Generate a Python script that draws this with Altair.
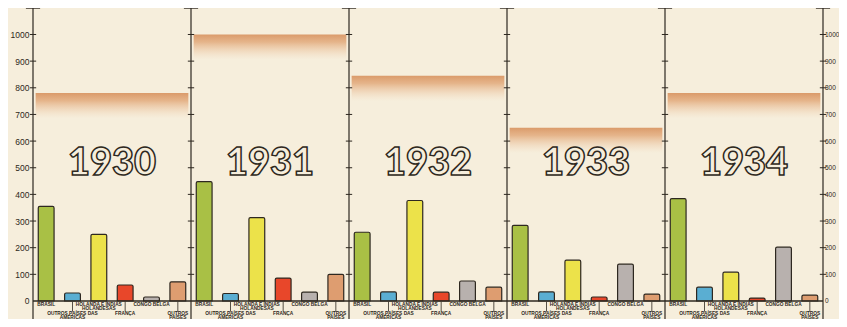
import altair as alt
import pandas as pd

years = ["1930", "1931", "1932", "1933", "1934"]
countries = ["BRASIL", "OUTROS PAÍSES DAS AMÉRICAS", "HOLANDA E ÍNDIAS HOLANDESAS",
             "FRANÇA", "CONGO BELGA", "OUTROS PAÍSES"]
values = {
    "1930": [355, 30, 250, 60, 15, 72],
    "1931": [448, 28, 313, 86, 33, 100],
    "1932": [258, 34, 377, 33, 75, 52],
    "1933": [284, 34, 153, 15, 138, 26],
    "1934": [384, 52, 108, 11, 202, 22],
}
totals = [780, 1000, 845, 650, 780]
colors = ["#a9c045", "#5aaed2", "#ece24a", "#e8472a", "#b8b1ae", "#de9d70"]
label_lines = [
    ["BRASIL"],
    ["OUTROS PAÍSES DAS", "AMÉRICAS"],
    ["HOLANDA E ÍNDIAS", "HOLANDESAS"],
    ["FRANÇA"],
    ["CONGO BELGA"],
    ["OUTROS", "PAÍSES"],
]
label_rows = [1, 2, 1, 2, 1, 2]
y_ticks = list(range(0, 1001, 100))

BG = "#f6eedc"
INK = "#2e2820"
NB = len(countries)
FONT = "Liberation Sans"

bars = []
for p, yr in enumerate(years):
    for i, c in enumerate(countries):
        bars.append({"year": yr, "country": c, "value": values[yr][i],
                     "x": p * NB + i + 0.2, "x2": p * NB + i + 0.8, "color": colors[i]})
bars_df = pd.DataFrame(bars)

bands_df = pd.DataFrame([{"year": yr, "x": p * NB + 0.1, "x2": p * NB + NB - 0.1,
                          "top": totals[p], "bottom": totals[p] - 95}
                         for p, yr in enumerate(years)])

years_df = pd.DataFrame([{"year": yr, "x": p * NB + NB / 2, "y": 515}
                         for p, yr in enumerate(years)])

axes_df = pd.DataFrame([{"x": p * NB, "y": -68, "y2": 1099} for p in range(len(years) + 1)])
caps_df = pd.DataFrame([{"x": p * NB - 0.27, "x2": p * NB + 0.27, "y": 1099}
                        for p in range(len(years) + 1)])
ticks_df = pd.DataFrame([{"x": p * NB - 0.12, "x2": p * NB + 0.12, "y": t}
                         for p in range(len(years) + 1) for t in y_ticks[1:]])
base_df = pd.DataFrame([{"x": 0, "x2": len(years) * NB, "y": 0}])

lab = []
conn = []
row_y = {1: -15, 2: -48}
for p in range(len(years)):
    for i, lines in enumerate(label_lines):
        y0 = row_y[label_rows[i]]
        for k, t in enumerate(lines):
            lab.append({"x": p * NB + i + 0.5, "y": y0 - k * 16, "t": t})
        if label_rows[i] == 2:
            conn.append({"x": p * NB + i + 0.5, "y": -3, "y2": y0 + 8})
lab_df = pd.DataFrame(lab)
conn_df = pd.DataFrame(conn)

xs = alt.Scale(domain=[0, len(years) * NB], nice=False, zero=False)
ys = alt.Scale(domain=[-67.6, 1099.4], nice=False, zero=False)
X = lambda f: alt.X(f, type="quantitative", scale=xs, axis=None)
Y = lambda f: alt.Y(f, type="quantitative", scale=ys, axis=None)

band = alt.Chart(bands_df).mark_rect(
    color=alt.LinearGradient(
        gradient="linear", x1=0, x2=0, y1=0, y2=1,
        stops=[alt.GradientStop(color="rgba(214,140,86,0.85)", offset=0),
               alt.GradientStop(color="rgba(222,156,104,0.7)", offset=0.3),
               alt.GradientStop(color="rgba(240,205,170,0.0)", offset=1)])
).encode(x=X("x"), x2="x2", y=Y("top"), y2="bottom")

bar = alt.Chart(bars_df).mark_bar(stroke=INK, strokeWidth=1.2,
                                  cornerRadiusTopLeft=1.5, cornerRadiusTopRight=1.5).encode(
    x=X("x"), x2="x2", y=Y("value"), y2=alt.datum(0),
    color=alt.Color("color:N", scale=None),
    tooltip=["year", "country", "value"])

year_txt = alt.Chart(years_df).mark_text(
    font="Lato", fontWeight=900, fontSize=38, fill=BG, stroke=INK, strokeWidth=1.5,
    baseline="middle", align="center").encode(x=X("x"), y=Y("y"), text="year")

axes = alt.Chart(axes_df).mark_rule(color=INK, strokeWidth=1.2).encode(
    x=X("x"), y=Y("y"), y2="y2")
caps = alt.Chart(caps_df).mark_rule(color=INK, strokeWidth=1.2).encode(
    x=X("x"), x2="x2", y=Y("y"))
ticks = alt.Chart(ticks_df).mark_rule(color=INK, strokeWidth=1).encode(
    x=X("x"), x2="x2", y=Y("y"))
base = alt.Chart(base_df).mark_rule(color=INK, strokeWidth=1.6).encode(
    x=X("x"), x2="x2", y=Y("y"))
conns = alt.Chart(conn_df).mark_rule(color=INK, strokeWidth=0.8).encode(
    x=X("x"), y=Y("y"), y2="y2")
labels = alt.Chart(lab_df).mark_text(
    font=FONT, fontSize=4.8, fontWeight="bold", color=INK,
    baseline="middle", align="center").encode(x=X("x"), y=Y("y"), text="t")

ax_df = pd.DataFrame({"v": y_ticks})
left_axis = alt.Chart(ax_df).mark_point(opacity=0).encode(
    y=alt.Y("v:Q", scale=ys, axis=alt.Axis(orient="left", values=y_ticks, domain=False,
            ticks=False, labelPadding=4, labelFontSize=8.5, labelColor=INK, format="d",
            labelFont=FONT, grid=False, title=None)))
right_axis = alt.Chart(ax_df).mark_point(opacity=0).encode(
    y=alt.Y("v:Q", scale=ys, axis=alt.Axis(orient="right", values=y_ticks, domain=False,
            ticks=False, labelPadding=1.5, labelFontSize=6.5, labelColor=INK, format="d",
            labelFont=FONT, grid=False, title=None)))

chart = alt.layer(band, bar, year_txt, axes, caps, ticks, base, conns, labels,
                  left_axis, right_axis).resolve_axis(y="independent").properties(
    width=790, height=311,
    autosize=alt.AutoSizeParams(type="none"),
    padding={"left": 25, "right": 16, "top": 0, "bottom": 0},
    background=BG,
).configure_view(stroke=None)

chart.save("out.html", embed_options={"renderer": "svg", "actions": False})
